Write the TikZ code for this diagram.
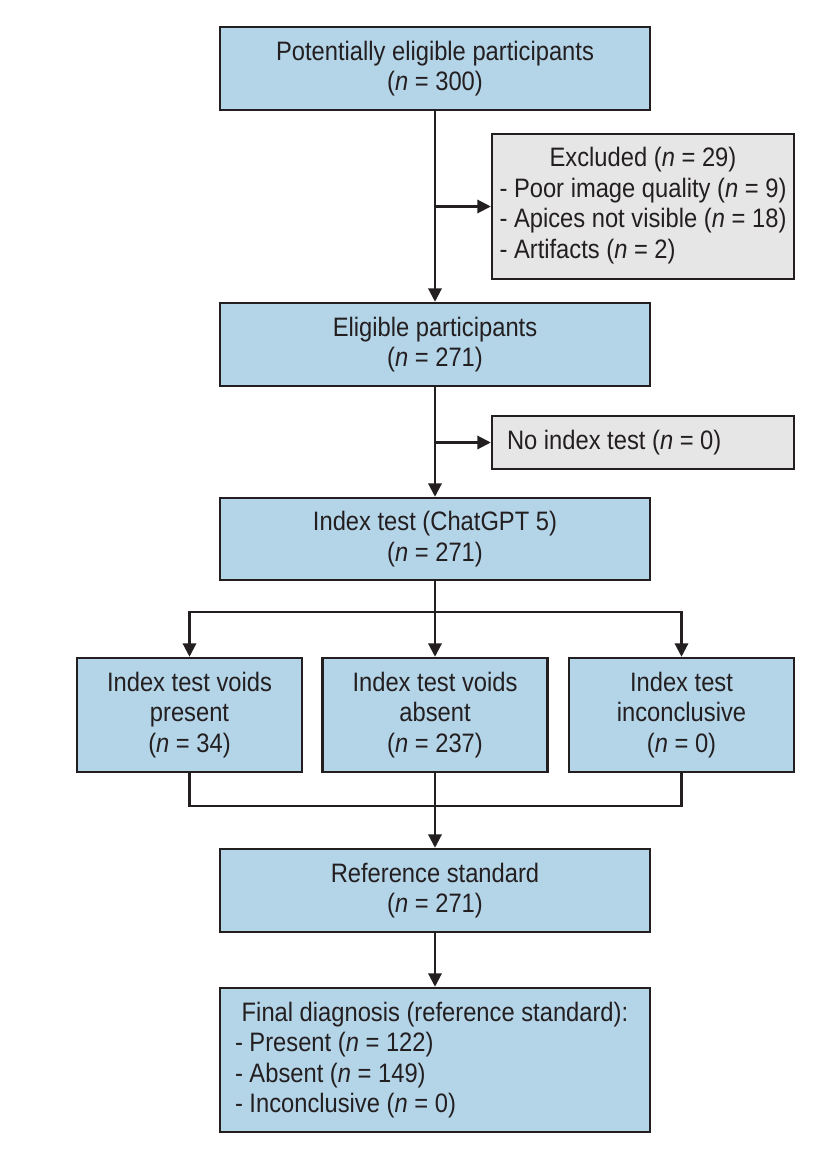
\documentclass[tikz,border=0pt]{standalone}
\usepackage{fontspec}
\setmainfont[FakeStretch=0.89]{Liberation Sans}
\usetikzlibrary{arrows.meta}

\definecolor{boxblue}{HTML}{B4D4E8}
\definecolor{boxgray}{HTML}{E6E6E6}
\definecolor{inkblack}{HTML}{231F20}

\tikzset{every picture/.style={line width=1.6pt}}
\tikzset{
  box/.style={draw=inkblack, line width=1.9pt, fill=boxblue, text=inkblack,
    inner sep=0pt, font=\fontsize{20}{22.9}\selectfont, align=flush center},
  sidebox/.style={box, fill=boxgray},
  wide/.style={minimum width=322.5pt, minimum height=62.25pt},
  arr/.style={draw=inkblack, -{Triangle[length=10pt,width=10pt]}},
  lin/.style={draw=inkblack}
}

\begin{document}
\begin{tikzpicture}[x=0.75pt,y=0.75pt,yscale=-1,xscale=1]
				%set diagram left start at 0, and has height of 1150
				\useasboundingbox (0,0) rectangle (835,1150);
				
				% Text Node
				\node [box, wide] (pot) at (435,68.5) {Potentially eligible participants\\(\textit{n} = 300)};
				% Text Node
				\node [sidebox, minimum width=226.5pt, minimum height=108.75pt] (excl) at (643,206.5)
				  {\begin{tabular}{@{}l@{}}\multicolumn{1}{@{}c@{}}{Excluded (\textit{n} = 29)}\\- Poor image quality (\textit{n} = 9)\\- Apices not visible (\textit{n} = 18)\\- Artifacts (\textit{n} = 2)\end{tabular}};
				% Text Node
				\node [box, wide] (elig) at (435,344.5) {Eligible participants\\(\textit{n} = 271)};
				% Text Node
				\node [sidebox, minimum width=226.5pt, minimum height=39.75pt, text width=204pt, align=flush left] (noidx) at (643,442.5) {No index test (\textit{n} = 0)};
				% Text Node
				\node [box, wide, minimum height=61.5pt] (idx) at (435,539) {Index test (ChatGPT 5)\\(\textit{n} = 271)};
				% Text Node
				\node [box, minimum width=168.75pt, minimum height=85.5pt] (pres) at (189.5,715) {Index test voids\\present\\(\textit{n} = 34)};
				% Text Node
				\node [box, minimum width=168.75pt, minimum height=85.5pt] (abs) at (435,715) {Index test voids\\absent\\(\textit{n} = 237)};
				% Text Node
				\node [box, minimum width=168.75pt, minimum height=85.5pt] (incl) at (681.5,715) {Index test\\inconclusive\\(\textit{n} = 0)};
				% Text Node
				\node [box, wide] (refstd) at (435,890.5) {Reference standard\\(\textit{n} = 271)};
				% Text Node
				\node [box, minimum width=322.5pt, minimum height=108pt, text width=300pt, align=flush left] (final) at (435,1060)
				  {{\centering Final diagnosis (reference standard):\par}- Present (\textit{n} = 122)\\- Absent (\textit{n} = 149)\\- Inconclusive (\textit{n} = 0)};
				
				\coordinate (split) at (435,612);
				\coordinate (merge) at (435,806);
				
				%Straight Lines
				\draw [arr] (pot.south) -- (elig.north);
				\draw [arr] (pot.south |- excl.west) -- (excl.west);
				\draw [arr] (elig.south) -- (idx.north);
				\draw [arr] (elig.south |- noidx.west) -- (noidx.west);
				%Split Lines
				\draw [lin] (idx.south) -- (split);
				\draw [arr] (split) -| (pres.north);
				\draw [arr] (split) -- (abs.north);
				\draw [arr] (split) -| (incl.north);
				%Merge Lines
				\draw [lin] (pres.south) |- (merge);
				\draw [lin] (incl.south) |- (merge);
				\draw [lin] (abs.south) -- (merge);
				\draw [arr] (merge) -- (refstd.north);
				\draw [arr] (refstd.south) -- (final.north);
				
			\end{tikzpicture}
\end{document}
